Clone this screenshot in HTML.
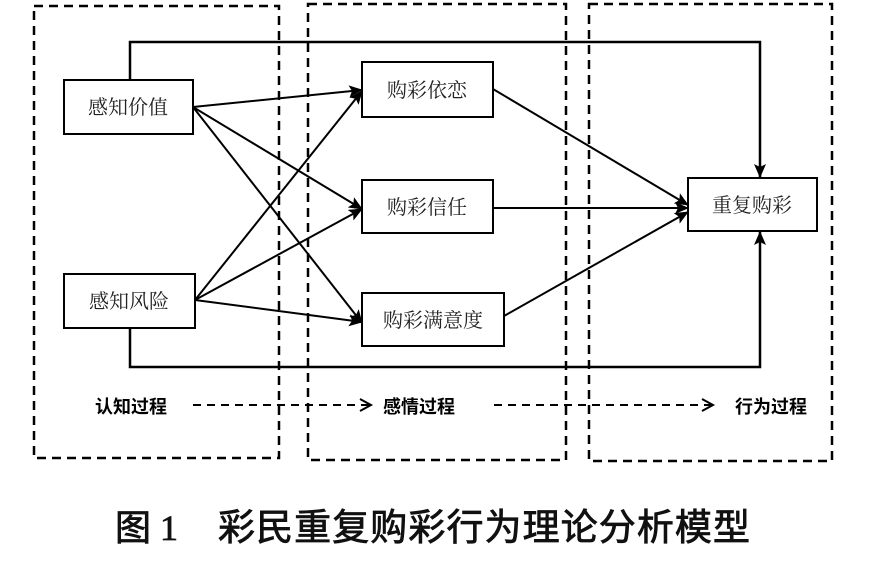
<!DOCTYPE html>
<html><head><meta charset="utf-8"><style>
body{margin:0;background:#fff;width:895px;height:564px;overflow:hidden}
svg text{font-family:"Liberation Serif","Noto Serif CJK SC",serif}
</style></head><body>
<svg width="895" height="564" viewBox="0 0 895 564">
<defs><marker id="a" markerWidth="14" markerHeight="12" refX="13" refY="6" orient="auto" markerUnits="userSpaceOnUse"><path d="M0,0 L14,6 L0,12 L3,6z" fill="#000"/></marker></defs>
<g fill="none" stroke="#000" stroke-width="2.5" stroke-dasharray="9,6">
<rect x="34" y="6" width="245" height="452"/>
<rect x="308" y="4" width="258" height="456"/>
<rect x="589" y="4" width="243" height="457"/>
</g>
<g fill="none" stroke="#000" stroke-width="2">
<rect x="64" y="80" width="129" height="54"/>
<rect x="64" y="274" width="131" height="54"/>
<rect x="362" y="62" width="131" height="55"/>
<rect x="362" y="180" width="131" height="53"/>
<rect x="362" y="293" width="142" height="53"/>
<rect x="688" y="178" width="129" height="53"/>
</g>
<g fill="none" stroke="#000" stroke-width="2.5">
<path d="M130 80V42H760V177" marker-end="url(#a)"/>
<path d="M130 328V367H760V232" marker-end="url(#a)"/>
</g>
<g stroke="#000" stroke-width="2" marker-end="url(#a)">
<line x1="193" y1="107" x2="362" y2="90"/>
<line x1="193" y1="107" x2="362" y2="209"/>
<line x1="193" y1="107" x2="362" y2="323"/>
<line x1="195" y1="300" x2="362" y2="91"/>
<line x1="195" y1="300" x2="362" y2="209"/>
<line x1="195" y1="300" x2="362" y2="322"/>
<line x1="493" y1="89" x2="688" y2="205"/>
<line x1="493" y1="208" x2="688" y2="208"/>
<line x1="504" y1="316" x2="688" y2="212"/>
</g>
<g font-size="20" text-anchor="middle" fill="#222">
<text x="128" y="114">感知价值</text>
<text x="129" y="308">感知风险</text>
<text x="427" y="97">购彩依恋</text>
<text x="427" y="214">购彩信任</text>
<text x="433" y="327">购彩满意度</text>
<text x="752" y="212">重复购彩</text>
</g>
<g font-size="18" font-weight="bold" fill="#000">
<text x="95" y="413" style="font-family:'Liberation Sans','Noto Sans CJK SC',sans-serif">认知过程</text>
<text x="383" y="413" style="font-family:'Liberation Sans','Noto Sans CJK SC',sans-serif">感情过程</text>
<text x="735" y="413" style="font-family:'Liberation Sans','Noto Sans CJK SC',sans-serif">行为过程</text>
</g>
<g fill="none" stroke="#000" stroke-width="2">
<line x1="193" y1="405" x2="370" y2="405" stroke-dasharray="8,6"/>
<path d="M360 399L371 405L360 411"/>
<line x1="494" y1="405" x2="712" y2="405" stroke-dasharray="8,6"/>
<path d="M702 399L713 405L702 411"/>
</g>
<g fill="#111" stroke="#111" stroke-width="0.8">
<text x="115" y="540" font-size="36" style="font-family:'Liberation Serif','Noto Sans CJK SC',sans-serif">图 1</text>
<text x="218" y="540" font-size="37" textLength="532" lengthAdjust="spacing" style="font-family:'Noto Sans CJK SC',sans-serif">彩民重复购彩行为理论分析模型</text>
</g>
</svg>
</body></html>
